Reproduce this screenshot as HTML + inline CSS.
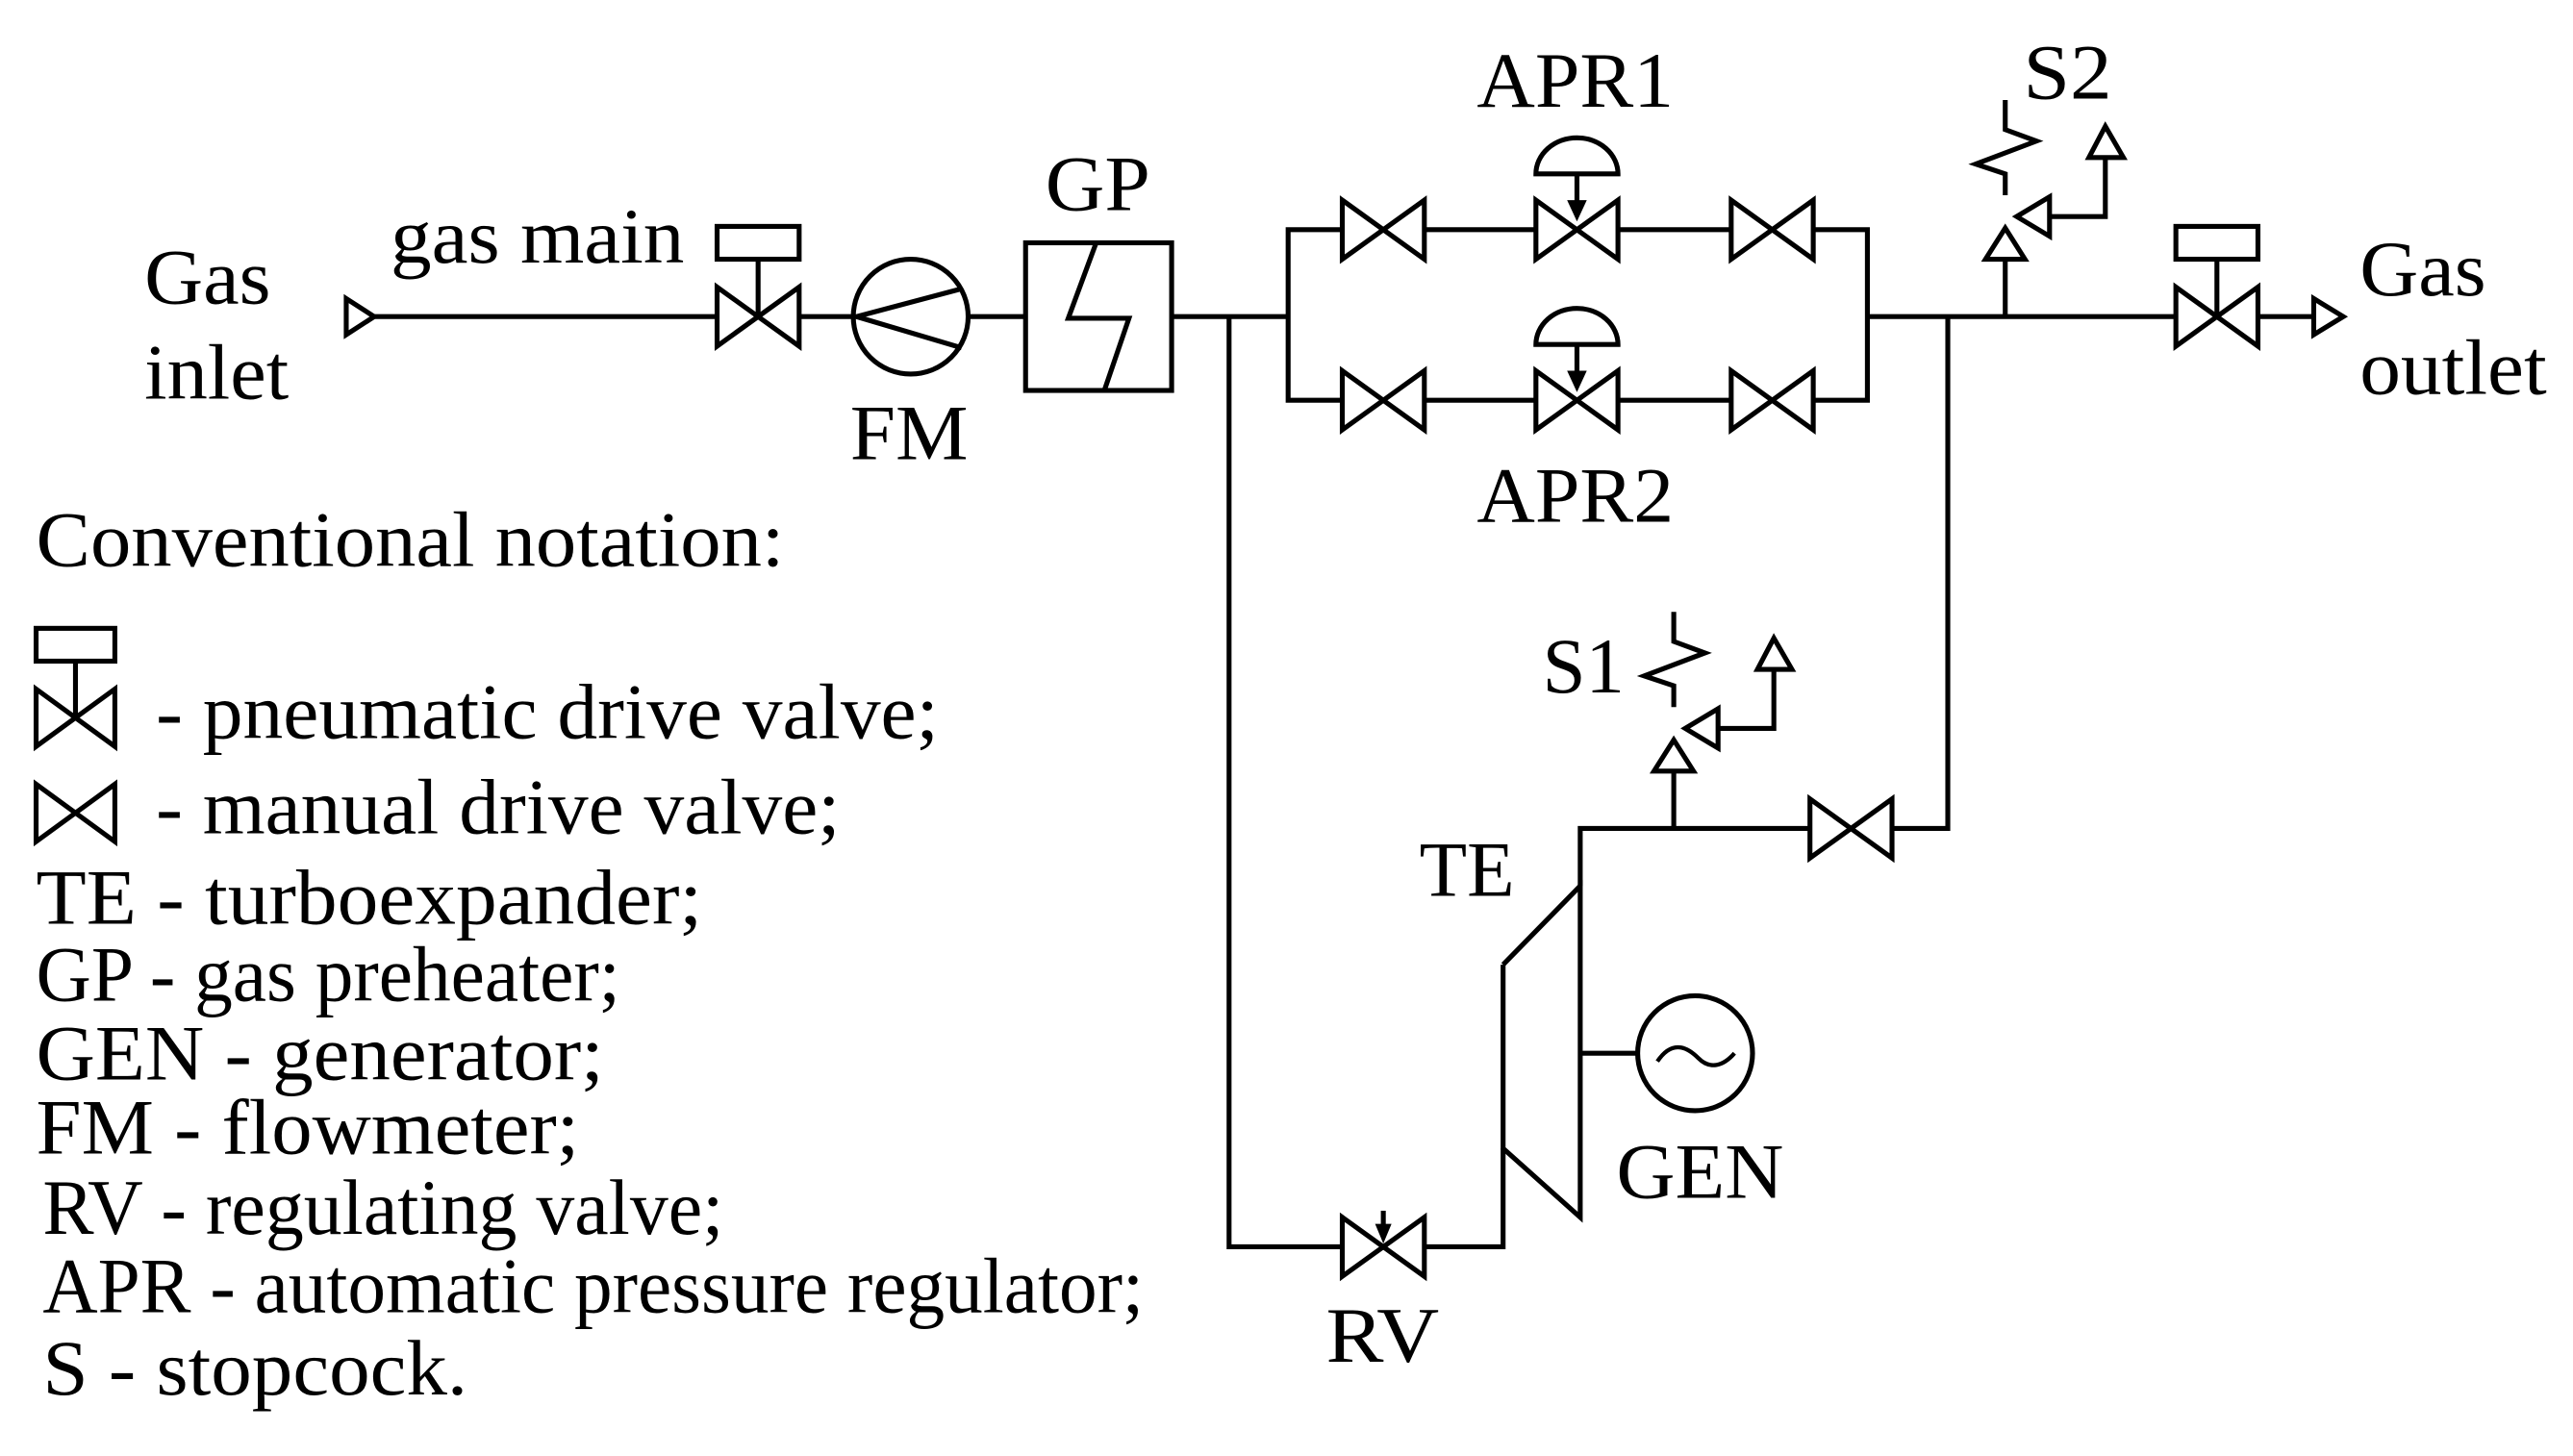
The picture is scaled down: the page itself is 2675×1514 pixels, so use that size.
<!DOCTYPE html>
<html><head><meta charset="utf-8"><style>
html,body{margin:0;padding:0;background:#fff;}
svg{display:block;}
text{font-family:"Liberation Serif","Times New Roman",serif;fill:#000;}
</style></head><body>
<svg width="2675" height="1514" viewBox="0 0 1568 887.5" preserveAspectRatio="none" xmlns="http://www.w3.org/2000/svg">
<defs>
<g id="mv"><path d="M-25,-18 L-25,18 L25,-18 L25,18 Z" fill="#fff" stroke="#000" stroke-width="3" stroke-linejoin="miter"/></g>
</defs>
<g stroke="#000" stroke-width="3" fill="none">
<path d="M211,182 L228,193 L211,204 Z" fill="#fff"/>
<line x1="228" y1="193" x2="437" y2="193"/>
<use href="#mv" x="462" y="193"/>
<rect x="437" y="138" width="50" height="20" fill="#fff"/>
<line x1="462" y1="158" x2="462" y2="193"/>
<line x1="487" y1="193" x2="520" y2="193"/>
<circle cx="555" cy="193" r="35"/>
<polyline points="586,176 522,193 586,212"/>
<line x1="590" y1="193" x2="625" y2="193"/>
<rect x="625" y="148" width="89" height="90"/>
<polyline points="668,148 651,194 688,194 673,238"/>
<line x1="714" y1="193" x2="785" y2="193"/>
<polyline points="818,140 785,140 785,244 818,244"/>
<line x1="868" y1="140" x2="936" y2="140"/>
<line x1="986" y1="140" x2="1055" y2="140"/>
<polyline points="1105,140 1138,140 1138,244 1105,244"/>
<line x1="868" y1="244" x2="936" y2="244"/>
<line x1="986" y1="244" x2="1055" y2="244"/>
<use href="#mv" x="843" y="140"/><use href="#mv" x="961" y="140"/><use href="#mv" x="1080" y="140"/>
<use href="#mv" x="843" y="244"/><use href="#mv" x="961" y="244"/><use href="#mv" x="1080" y="244"/>
<path d="M936,106 A25,22 0 0 1 986,106 Z" fill="#fff"/>
<path d="M936,210 A25,22 0 0 1 986,210 Z" fill="#fff"/>
<line x1="961" y1="106" x2="961" y2="125"/>
<line x1="961" y1="210" x2="961" y2="229"/>
<line x1="1138" y1="193" x2="1327" y2="193"/>
<use href="#mv" x="1351" y="193"/>
<rect x="1326" y="138" width="50" height="20" fill="#fff"/>
<line x1="1351" y1="158" x2="1351" y2="193"/>
<line x1="1376" y1="193" x2="1410" y2="193"/>
<path d="M1410,182 L1428,193 L1410,204 Z" fill="#fff"/>
<line x1="1222" y1="193" x2="1222" y2="158"/>
<path d="M1210,158 L1222,139 L1234,158 Z" fill="#fff"/>
<polyline points="1222,61 1222,79 1241,86 1204,100 1222,106 1222,119"/>
<path d="M1249,120 L1229,132 L1249,144 Z" fill="#fff"/>
<polyline points="1249,132 1283,132 1283,96"/>
<path d="M1273,96 L1283,77 L1294,96 Z" fill="#fff"/>
<polyline points="749,193 749,760 818,760"/>
<use href="#mv" x="843" y="760"/>
<line x1="843" y1="738" x2="843" y2="748"/>
<polyline points="868,760 916,760 916,700"/>
<polyline points="916,588 963,540 963,742 916,700 916,588"/>
<polyline points="963,540 963,505 1103,505"/>
<use href="#mv" x="1128" y="505"/>
<polyline points="1153,505 1187,505 1187,193"/>
<line x1="963" y1="642" x2="998" y2="642"/>
<circle cx="1033" cy="642" r="35"/>
<path d="M1010,647 C1020,632 1030,640 1035,645 C1042,652 1050,650 1057,642" stroke-width="2.5"/>
<line x1="1020" y1="505" x2="1020" y2="470"/>
<path d="M1008,470 L1020,451 L1032,470 Z" fill="#fff"/>
<polyline points="1020,373 1020,391 1039,398 1002,412 1020,418 1020,431"/>
<path d="M1047,432 L1027,444 L1047,456 Z" fill="#fff"/>
<polyline points="1047,444 1081,444 1081,408"/>
<path d="M1071,408 L1081,389 L1092,408 Z" fill="#fff"/>
<rect x="22" y="383" width="48" height="20"/>
<line x1="46" y1="403" x2="46" y2="437"/>
<path d="M22,420 L22,455 L70,420 L70,455 Z"/>
<path d="M22,478 L22,513 L70,478 L70,513 Z"/>
</g>
<g fill="#000">
<path d="M955,122 L967,122 L961,135 Z"/>
<path d="M955,226 L967,226 L961,239 Z"/>
<path d="M838,746 L848,746 L843,758 Z"/>
</g>
<g font-size="48" lengthAdjust="spacingAndGlyphs">
<text x="88" y="185" textLength="77" lengthAdjust="spacingAndGlyphs">Gas</text>
<text x="88" y="243" textLength="88" lengthAdjust="spacingAndGlyphs">inlet</text>
<text x="238" y="160" textLength="179" lengthAdjust="spacingAndGlyphs">gas main</text>
<text x="518" y="280" textLength="72" lengthAdjust="spacingAndGlyphs">FM</text>
<text x="637" y="128" textLength="64" lengthAdjust="spacingAndGlyphs">GP</text>
<text x="900" y="65" textLength="120" lengthAdjust="spacingAndGlyphs">APR1</text>
<text x="900" y="318" textLength="120" lengthAdjust="spacingAndGlyphs">APR2</text>
<text x="1233" y="60" textLength="54" lengthAdjust="spacingAndGlyphs">S2</text>
<text x="1438" y="180" textLength="77" lengthAdjust="spacingAndGlyphs">Gas</text>
<text x="1438" y="240" textLength="114" lengthAdjust="spacingAndGlyphs">outlet</text>
<text x="940" y="422" textLength="50" lengthAdjust="spacingAndGlyphs">S1</text>
<text x="865" y="546" textLength="58" lengthAdjust="spacingAndGlyphs">TE</text>
<text x="985" y="730" textLength="102" lengthAdjust="spacingAndGlyphs">GEN</text>
<text x="808" y="830" textLength="69" lengthAdjust="spacingAndGlyphs">RV</text>
<text x="22" y="345" textLength="456" lengthAdjust="spacingAndGlyphs">Conventional notation:</text>
<text x="95" y="450" textLength="477" lengthAdjust="spacingAndGlyphs">- pneumatic drive valve;</text>
<text x="95" y="508" textLength="417" lengthAdjust="spacingAndGlyphs">- manual drive valve;</text>
<text x="22" y="563" textLength="406" lengthAdjust="spacingAndGlyphs">TE - turboexpander;</text>
<text x="22" y="610" textLength="356" lengthAdjust="spacingAndGlyphs">GP - gas preheater;</text>
<text x="22" y="658" textLength="346" lengthAdjust="spacingAndGlyphs">GEN - generator;</text>
<text x="22" y="703" textLength="331" lengthAdjust="spacingAndGlyphs">FM - flowmeter;</text>
<text x="26" y="752" textLength="415" lengthAdjust="spacingAndGlyphs">RV - regulating valve;</text>
<text x="26" y="800" textLength="671" lengthAdjust="spacingAndGlyphs">APR - automatic pressure regulator;</text>
<text x="26" y="850" textLength="259" lengthAdjust="spacingAndGlyphs">S - stopcock.</text>
</g>
</svg>
</body></html>
